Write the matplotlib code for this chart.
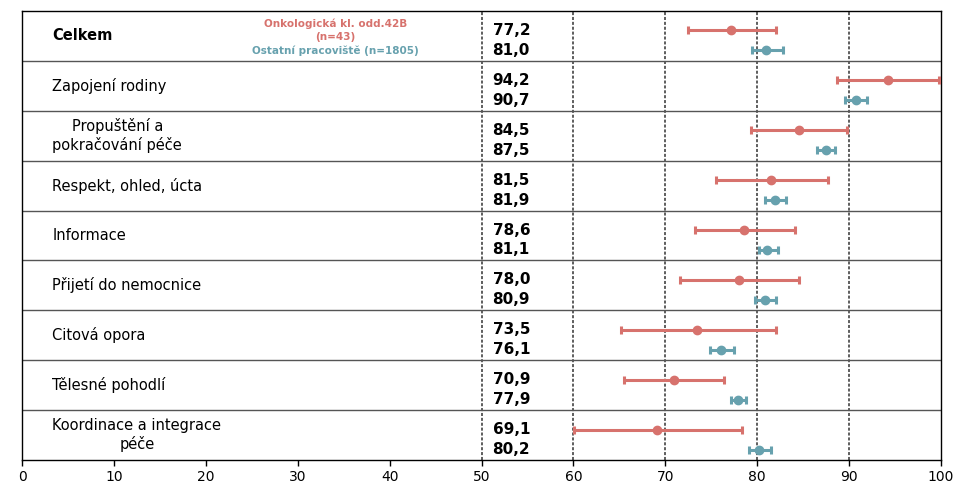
import matplotlib
matplotlib.use("Agg")
import matplotlib.pyplot as plt
import numpy as np

plt.rcParams["font.family"] = ["DejaVu Sans"]

categories = ["Celkem", "Zapojení rodiny", "Propuštění a\npokračování péče",
              "Respekt, ohled, úcta", "Informace", "Přijetí do nemocnice",
              "Citová opora", "Tělesné pohodlí", "Koordinace a integrace\npéče"]
onko_mean = [77.2, 94.2, 84.5, 81.5, 78.6, 78.0, 73.5, 70.9, 69.1]
onko_low = [72.5, 88.7, 79.3, 75.5, 73.2, 71.6, 65.2, 65.5, 60.1]
onko_high = [82.1, 99.8, 89.8, 87.7, 84.1, 84.6, 82.0, 76.4, 78.4]
ost_mean = [81.0, 90.7, 87.5, 81.9, 81.1, 80.9, 76.1, 77.9, 80.2]
ost_low = [79.4, 89.6, 86.5, 80.9, 80.2, 79.8, 74.9, 77.1, 79.1]
ost_high = [82.8, 92.0, 88.5, 83.1, 82.3, 82.0, 77.5, 78.8, 81.5]
onko_label = "Onkologická kl. odd.42B\n(n=43)"
ost_label = "Ostatní pracoviště (n=1805)"
xticks = [0, 10, 20, 30, 40, 50, 60, 70, 80, 90, 100]
vlines = [50, 60, 70, 80, 90]

red = "#d7726d"
teal = "#67a1ae"

fig = plt.figure(figsize=(9.55, 4.83), dpi=100)
ax = fig.add_axes([22/955, 23/483, (941-22)/955, (460-11)/483])
n = len(categories)
ax.set_xlim(0, 100)
ax.set_ylim(n, 0)

for v in vlines:
    ax.axvline(v, color="#333333", lw=1.1, ls=(0, (2, 1.2)), zorder=1)
for i in range(1, n):
    ax.axhline(i, color="#555555", lw=1.0, zorder=1)

idx = np.arange(n)
yr = idx + 0.39
yt = idx + 0.79
om = np.array(onko_mean)
ax.errorbar(om, yr, xerr=[om - np.array(onko_low), np.array(onko_high) - om],
            fmt="o", color=red, ms=6, elinewidth=2.2, capsize=3, capthick=2.2, zorder=3)
sm = np.array(ost_mean)
ax.errorbar(sm, yt, xerr=[sm - np.array(ost_low), np.array(ost_high) - sm],
            fmt="o", color=teal, ms=6, elinewidth=2.2, capsize=3, capthick=2.2, zorder=3)

for i, cat in enumerate(categories):
    ax.text(3.3, i + 0.5, cat, ha="left", va="center", multialignment="center",
            fontsize=10.5, fontweight="bold" if i == 0 else "normal", color="black")
    ax.text(51.2, yr[i], f"{onko_mean[i]:.1f}".replace(".", ","), ha="left", va="center",
            fontsize=11, fontweight="bold")
    ax.text(51.2, yt[i], f"{ost_mean[i]:.1f}".replace(".", ","), ha="left", va="center",
            fontsize=11, fontweight="bold")

ax.text(34.1, 0.38, onko_label, ha="center", va="center", color=red, fontsize=7.5,
        fontweight="bold", linespacing=1.35)
ax.text(34.1, 0.79, ost_label, ha="center", va="center", color=teal, fontsize=7.5,
        fontweight="bold")

ax.set_xticks(xticks)
ax.set_yticks([])
ax.tick_params(axis="x", labelsize=10, length=4, width=1)
for s in ax.spines.values():
    s.set_color("black")
    s.set_linewidth(1.0)

fig.savefig("out.png", dpi=100)
